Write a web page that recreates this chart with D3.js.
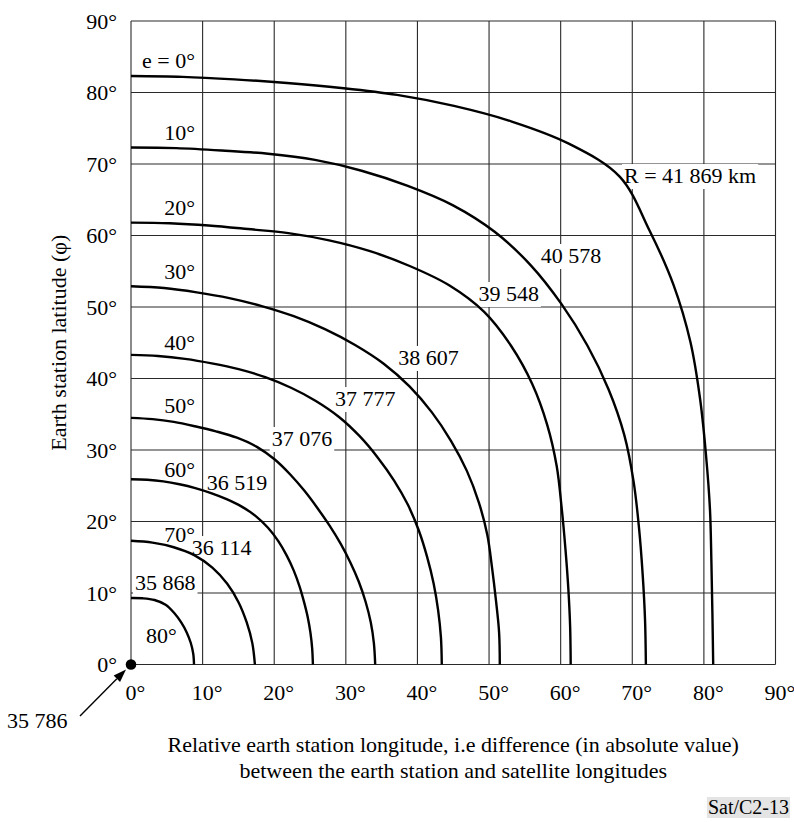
<!DOCTYPE html>
<html>
<head>
<meta charset="utf-8">
<script src="https://cdn.jsdelivr.net/npm/d3@7"></script>
<style>
  html, body { margin: 0; padding: 0; background: #fff; }
  svg { display: block; }
  text { font-family: "Liberation Serif", "Times New Roman", Times, serif; fill: #000; }
</style>
</head>
<body>
<svg id="chart" width="794" height="822"></svg>
<script>
// ---------------- data ----------------
const lonTicks = [0, 10, 20, 30, 40, 50, 60, 70, 80, 90];
const latTicks = [0, 10, 20, 30, 40, 50, 60, 70, 80, 90];

const elevations = [0, 10, 20, 30, 40, 50, 60, 70, 80];
const elevationLabels = ["e = 0°", "10°", "20°", "30°", "40°", "50°", "60°", "70°", "80°"];
const rangeLabels = ["R = 41 869 km", "40 578", "39 548", "38 607", "37 777", "37 076", "36 519", "36 114", "35 868"];
const originLabel = "35 786";

// [relative longitude (deg), latitude (deg)]
const curveE0  = [[0,82.3],[7.19,82.19],[14.43,81.84],[21.79,81.33],[29.35,80.63],[37.15,79.66],[45.1,78.12],[53.17,75.94],[61.13,72.85],[68.24,68.24],[72.39,60.74],[75.77,53.06],[78.12,45.1],[79.48,37.06],[80.30,29.23],[80.85,21.66],[81.05,14.29],[81.19,7.10],[81.3,0]];
const curveE10 = [[0,72.3],[6.32,72.22],[12.68,71.89],[19.14,71.43],[25.69,70.57],[32.20,69.06],[38.65,66.94],[44.97,64.22],[50.78,60.52],[55.83,55.83],[60.10,50.43],[63.73,44.62],[66.68,38.5],[68.88,32.12],[70.19,25.55],[70.95,19.01],[71.45,12.60],[71.78,6.28],[71.9,0]];
const curveE20 = [[0,61.8],[5.40,61.71],[10.83,61.40],[16.32,60.90],[21.96,60.33],[27.66,59.32],[33.38,57.81],[39.0,55.70],[44.48,53.01],[49.32,49.32],[53.09,44.55],[56.03,39.23],[58.11,33.55],[59.45,27.72],[60.14,21.89],[60.66,16.25],[61.06,10.77],[61.32,5.36],[61.4,0]];
const curveE30 = [[0,52.9],[4.61,52.65],[9.18,52.05],[13.73,51.24],[18.25,50.13],[22.72,48.71],[27.08,46.90],[31.29,44.68],[35.29,42.06],[38.89,38.89],[42.02,35.26],[44.68,31.29],[46.90,27.08],[48.58,22.65],[49.76,18.11],[50.42,13.51],[50.96,8.99],[51.40,4.50],[51.5,0]];
const curveE40 = [[0,43.3],[3.77,43.14],[7.54,42.74],[11.28,42.11],[15.03,41.30],[18.74,40.19],[22.35,38.71],[25.81,36.86],[29.05,34.62],[31.93,31.93],[34.47,28.93],[36.74,25.73],[38.67,22.33],[40.19,18.74],[41.35,15.05],[42.26,11.32],[42.89,7.56],[43.28,3.79],[43.4,0]];
const curveE50 = [[0,34.5],[3.00,34.32],[5.98,33.93],[8.93,33.32],[11.87,32.61],[14.79,31.72],[17.58,30.44],[20.08,28.67],[22.27,26.54],[24.25,24.25],[26.05,21.85],[27.73,19.42],[29.27,16.9],[30.63,14.28],[31.81,11.58],[32.76,8.78],[33.48,5.90],[33.92,2.97],[34.1,0]];
const curveE60 = [[0,25.9],[2.26,25.83],[4.51,25.61],[6.76,25.21],[8.98,24.67],[11.18,23.97],[13.35,23.12],[15.46,22.08],[17.42,20.76],[19.13,19.13],[20.57,17.26],[21.75,15.23],[22.73,13.13],[23.52,10.97],[24.15,8.79],[24.68,6.61],[25.06,4.42],[25.30,2.21],[25.4,0]];
const curveE70 = [[0,17.3],[3.00,17.04],[5.97,16.40],[8.83,15.29],[11.36,13.54],[13.44,11.28],[15.03,8.68],[16.16,5.88],[16.94,2.99],[17.3,0]];
const curveE80 = [[0,9.3],[1.63,9.26],[3.28,9.02],[4.83,8.36],[6.04,7.20],[7.01,5.88],[7.78,4.49],[8.34,3.04],[8.69,1.53],[8.8,0]];

const curves = [curveE0, curveE10, curveE20, curveE30, curveE40, curveE50, curveE60, curveE70, curveE80];

const xTitle1 = "Relative earth station longitude, i.e difference (in absolute value)";
const xTitle2 = "between the earth station and satellite longitudes";
const yTitle = "Earth station latitude (φ)";
const figId = "Sat/C2-13";

// ---------------- layout ----------------
const FONT = 22;
const svg = d3.select("#chart");
const x = d3.scaleLinear().domain([0, 90]).range([131, 775.5]);
const y = d3.scaleLinear().domain([0, 90]).range([664.5, 21]);
const deg = d => d + "°";

// grid
const grid = svg.append("g").attr("stroke", "#2a2a2a").attr("stroke-width", 1.1);
grid.selectAll("line.v").data(lonTicks).join("line")
  .attr("x1", d => x(d)).attr("x2", d => x(d))
  .attr("y1", y(0)).attr("y2", y(90));
grid.selectAll("line.h").data(latTicks).join("line")
  .attr("y1", d => y(d)).attr("y2", d => y(d))
  .attr("x1", x(0)).attr("x2", x(90));

// axes (labels only)
const xAxis = svg.append("g").attr("transform", `translate(0,${y(0)})`)
  .call(d3.axisBottom(x).tickValues(lonTicks).tickFormat(deg).tickSize(0).tickPadding(20));
xAxis.select(".domain").remove();
xAxis.selectAll("text").attr("font-size", FONT).attr("dx", 4)
  .style("font-family", '"Liberation Serif", "Times New Roman", serif');

const yAxis = svg.append("g").attr("transform", `translate(${x(0)},0)`)
  .call(d3.axisLeft(y).tickValues(latTicks).tickFormat(deg).tickSize(0).tickPadding(14));
yAxis.select(".domain").remove();
yAxis.selectAll("text").attr("font-size", FONT)
  .style("font-family", '"Liberation Serif", "Times New Roman", serif');

// label placements (data coordinates)
const rangeAt = [[68.85,67.34],[57.22,56.15],[48.51,50.84],[37.33,41.89],[28.49,36.15],[19.65,30.56],[10.57,24.41],[8.48,15.31],[0.56,10.42]];
const elevAt  = [[8.94,83.43],[8.94,73.36],[8.94,62.87],[8.94,53.92],[8.94,44.0],[8.94,35.13],[8.94,26.27],[8.94,17.2],[6.38,2.97]];

const bgLayer = svg.append("g");
const curveLayer = svg.append("g");
const textLayer = svg.append("g");

// range labels with white knock-out boxes
const rTexts = textLayer.selectAll("text.r").data(rangeLabels).join("text")
  .attr("class", "r")
  .attr("x", (d, i) => x(rangeAt[i][0]))
  .attr("y", (d, i) => y(rangeAt[i][1]))
  .attr("font-size", FONT)
  .text(d => d);
rTexts.each(function () {
  const b = this.getBBox();
  bgLayer.append("rect")
    .attr("x", b.x - 2).attr("y", b.y + 1)
    .attr("width", b.width + 4).attr("height", b.height)
    .attr("fill", "#fff");
});

// elevation labels
textLayer.selectAll("text.e").data(elevationLabels).join("text")
  .attr("class", "e")
  .attr("x", (d, i) => x(elevAt[i][0]))
  .attr("y", (d, i) => y(elevAt[i][1]))
  .attr("text-anchor", "end")
  .attr("font-size", FONT)
  .text(d => d);

// curves
const line = d3.line().x(d => x(d[0])).y(d => y(d[1])).curve(d3.curveCatmullRom.alpha(0.5));
curveLayer.selectAll("path").data(curves).join("path")
  .attr("d", line)
  .attr("fill", "none")
  .attr("stroke", "#000")
  .attr("stroke-width", 2.4)
  .attr("stroke-linejoin", "round");

// origin point (e = 90°) and arrow
svg.append("circle").attr("cx", x(0)).attr("cy", y(0)).attr("r", 5.3).attr("fill", "#000");
const tail = [80, 716], tip = [126, 669.5];
const ang = Math.atan2(tip[1] - tail[1], tip[0] - tail[0]);
const hl = 13, hw = 4.5;
const base = [tip[0] - hl * Math.cos(ang), tip[1] - hl * Math.sin(ang)];
svg.append("line").attr("x1", tail[0]).attr("y1", tail[1]).attr("x2", base[0]).attr("y2", base[1])
  .attr("stroke", "#000").attr("stroke-width", 1.4);
svg.append("path").attr("d", `M${tip[0]},${tip[1]} L${base[0] - hw * Math.sin(ang)},${base[1] + hw * Math.cos(ang)} L${base[0] + hw * Math.sin(ang)},${base[1] - hw * Math.cos(ang)} Z`)
  .attr("fill", "#000");
svg.append("text").attr("x", 7).attr("y", 728).attr("font-size", FONT).text(originLabel);

// titles
svg.append("text").attr("x", (x(0) + x(90)) / 2).attr("y", 752).attr("text-anchor", "middle")
  .attr("font-size", FONT).text(xTitle1);
svg.append("text").attr("x", (x(0) + x(90)) / 2).attr("y", 778).attr("text-anchor", "middle")
  .attr("font-size", FONT).text(xTitle2);
svg.append("text").attr("transform", `translate(66,${(y(0) + y(90)) / 2}) rotate(-90)`)
  .attr("text-anchor", "middle").attr("font-size", FONT).text(yTitle);

// figure id with grey box
const idGroup = svg.append("g");
const idBox = idGroup.append("rect").attr("fill", "#e4e4e4");
const fid = idGroup.append("text").attr("x", 789).attr("y", 814).attr("text-anchor", "end")
  .attr("font-size", 20).text(figId);
const fb = fid.node().getBBox();
idBox.attr("x", fb.x - 1).attr("y", fb.y + 1).attr("width", fb.width + 2).attr("height", fb.height - 1);
</script>
</body>
</html>
